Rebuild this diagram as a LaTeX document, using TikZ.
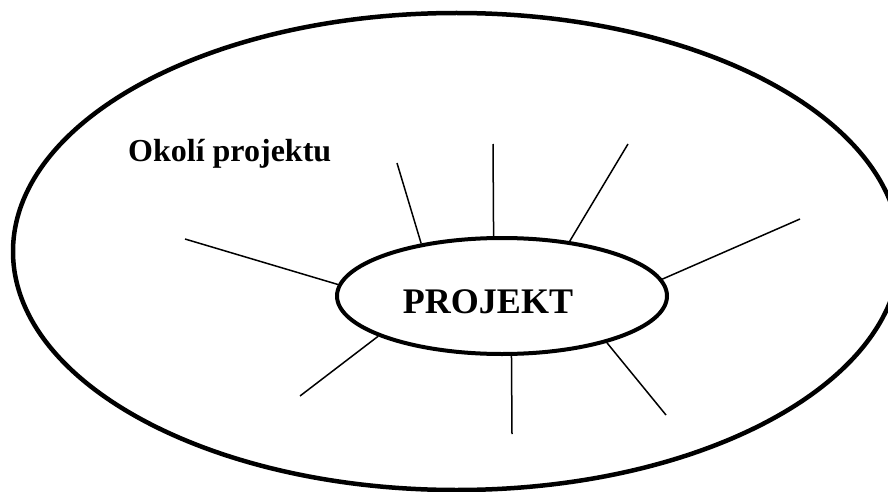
\documentclass[tikz,border=0pt]{standalone}
\usepackage{fontspec}
\setmainfont{Liberation Serif}
\usetikzlibrary{shapes.geometric}
\begin{document}
\begin{tikzpicture}
[x=1pt,y=-1pt,
  rayDecorate/.style={-,line width=1.5pt},%
  ellipseDecorate/.style={shape=ellipse,draw,inner sep=0pt},
  labelDecorate/.style={inner sep=0pt,font=\bfseries\fontsize{32}{38}\selectfont}]
\useasboundingbox (0,0) rectangle (888,492);
%% ellipses
\node (okoli) at (456.5,251.5) [ellipseDecorate,line width=4.5pt,
  minimum width=887pt,minimum height=477pt] {};
\node (projekt) at (502,296) [ellipseDecorate,line width=4pt,
  minimum width=330pt,minimum height=116pt] {};
%% texts
\node (okolitext) at (128,161) [labelDecorate,anchor=base west] {Okolí projektu};
\node (projekttext) at (488,313) [labelDecorate,anchor=base,
  font=\bfseries\fontsize{36}{42}\selectfont] {PROJEKT};
%% free ends of the rays
\foreach \nodename/\x/\y in {
  r1/185/239, r2/397/163, r3/493/144, r4/628/144,
  r5/800/219, r6/300/396, r7/512/434, r8/666/415}
{
  \coordinate (\nodename) at (\x,\y);
}
%% rays
\path
\foreach \startangle/\endnode in {
  176.8/r1, 147.4/r2, 98.7/r3, 39.9/r4,
  6.6/r5, 198.7/r6, 279.8/r7, 336.9/r8}
{
  (projekt.\startangle) edge[rayDecorate] (\endnode)
};
\end{tikzpicture}
\end{document}
